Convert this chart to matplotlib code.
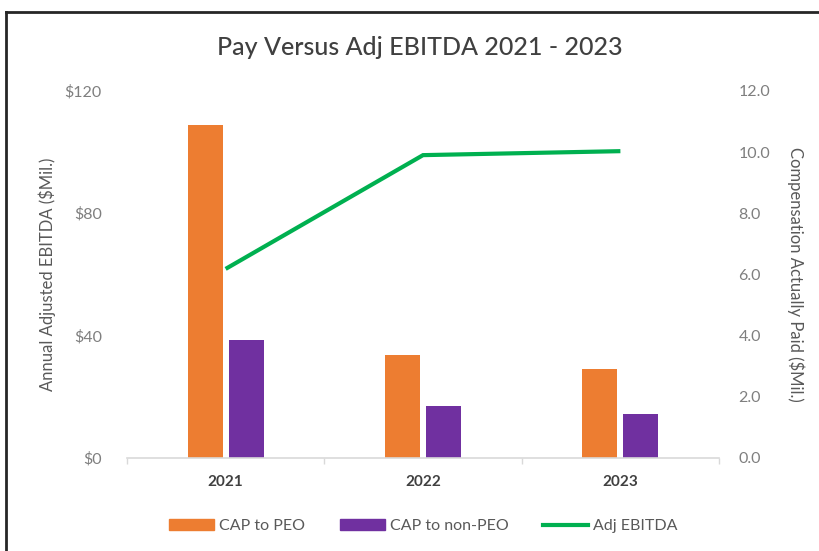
"""
Pay versus Adjusted EBITDA, 2021 - 2023
Bars: compensation actually paid (right axis), line: Adj EBITDA (left axis).
"""

import numpy as np
import matplotlib.pyplot as plt
from matplotlib.lines import Line2D

years = ['2021', '2022', '2023']
cap_peo = [10.9, 3.35, 2.9]          # $Mil.
cap_non_peo = [3.85, 1.7, 1.45]      # $Mil.
adj_ebitda = [61.8, 99.0, 100.3]     # $Mil.

ebitda_ticks = [0, 40, 80, 120]
cap_ticks = [0, 2, 4, 6, 8, 10, 12]

orange = '#ED7D31'
purple = '#7030A0'
green = '#00B050'
text_grey = '#595959'

plt.rcParams['font.family'] = ['Lato', 'DejaVu Sans']

fig = plt.figure(figsize=(8.19, 5.51), dpi=100)
ax = fig.add_axes([0.155, 0.169, 0.723, 0.666])
ax2 = ax.twinx()

x = np.arange(len(years))
w = 0.178
ax2.bar(x - 0.104, cap_peo, w, color=orange, label='CAP to PEO')
ax2.bar(x + 0.104, cap_non_peo, w, color=purple, label='CAP to non-PEO')
ax.plot(x, adj_ebitda, color=green, lw=3, solid_capstyle='butt',
        solid_joinstyle='miter', label='Adj EBITDA')

# line above the bars
ax.set_zorder(ax2.get_zorder() + 1)
ax.patch.set_visible(False)

ax.set_xlim(-0.5, 2.5)
ax.set_ylim(0, 120)
ax2.set_ylim(0, 12)
ax.set_yticks(ebitda_ticks)
ax.set_yticklabels(['${}'.format(t) for t in ebitda_ticks])
ax2.set_yticks(cap_ticks)
ax2.set_yticklabels(['{:.1f}'.format(t) for t in cap_ticks])

ax.set_xticks(x)
ax.set_xticklabels(years, fontweight='bold', fontsize=11, color='#404040')
ax.set_xticks([-0.5, 0.5, 1.5, 2.5], minor=True)
ax.tick_params(axis='x', which='major', length=0, pad=12)
ax.tick_params(axis='x', which='minor', length=4, color='#d9d9d9', width=1)

for a in (ax, ax2):
    for s in ('top', 'right', 'left', 'bottom'):
        a.spines[s].set_visible(False)
ax.spines['bottom'].set_visible(True)
ax.spines['bottom'].set_color('#d9d9d9')
ax.spines['bottom'].set_linewidth(1.2)

ax.tick_params(axis='y', length=0, labelsize=11.5, labelcolor='#7f7f7f', pad=18)
ax2.tick_params(axis='y', length=0, labelsize=11.5, labelcolor='#7f7f7f', pad=14)

ax.set_ylabel('Annual Adjusted EBITDA ($Mil.)', fontsize=12, color=text_grey,
              labelpad=6)
ax2.set_ylabel('Compensation Actually Paid ($Mil.)', fontsize=12,
               color=text_grey, rotation=-90, labelpad=12, va='bottom')

fig.text(0.513, 0.913, 'Pay Versus Adj EBITDA 2021 - 2023', fontsize=18,
         color='#404040', ha='center', va='center', fontweight='medium')

handles = [plt.Rectangle((0, 0), 1, 1, color=orange),
           plt.Rectangle((0, 0), 1, 1, color=purple),
           Line2D([], [], color=green, lw=3)]
fig.legend(handles, ['CAP to PEO', 'CAP to non-PEO', 'Adj EBITDA'],
           loc='center', bbox_to_anchor=(0.517, 0.045), ncol=3,
           frameon=False, fontsize=11.5, labelcolor=text_grey,
           handlelength=2.8, handleheight=0.7, handletextpad=0.3,
           columnspacing=2.2)

# border of the original chart box (only left and top show)
fig.add_artist(Line2D([6 / 819, 6 / 819], [0, 1 - 12 / 551],
                      color='#262626', lw=2, transform=fig.transFigure))
fig.add_artist(Line2D([6 / 819, 1], [1 - 12 / 551, 1 - 12 / 551],
                      color='#262626', lw=2, transform=fig.transFigure))

fig.savefig('out.png', dpi=100)
